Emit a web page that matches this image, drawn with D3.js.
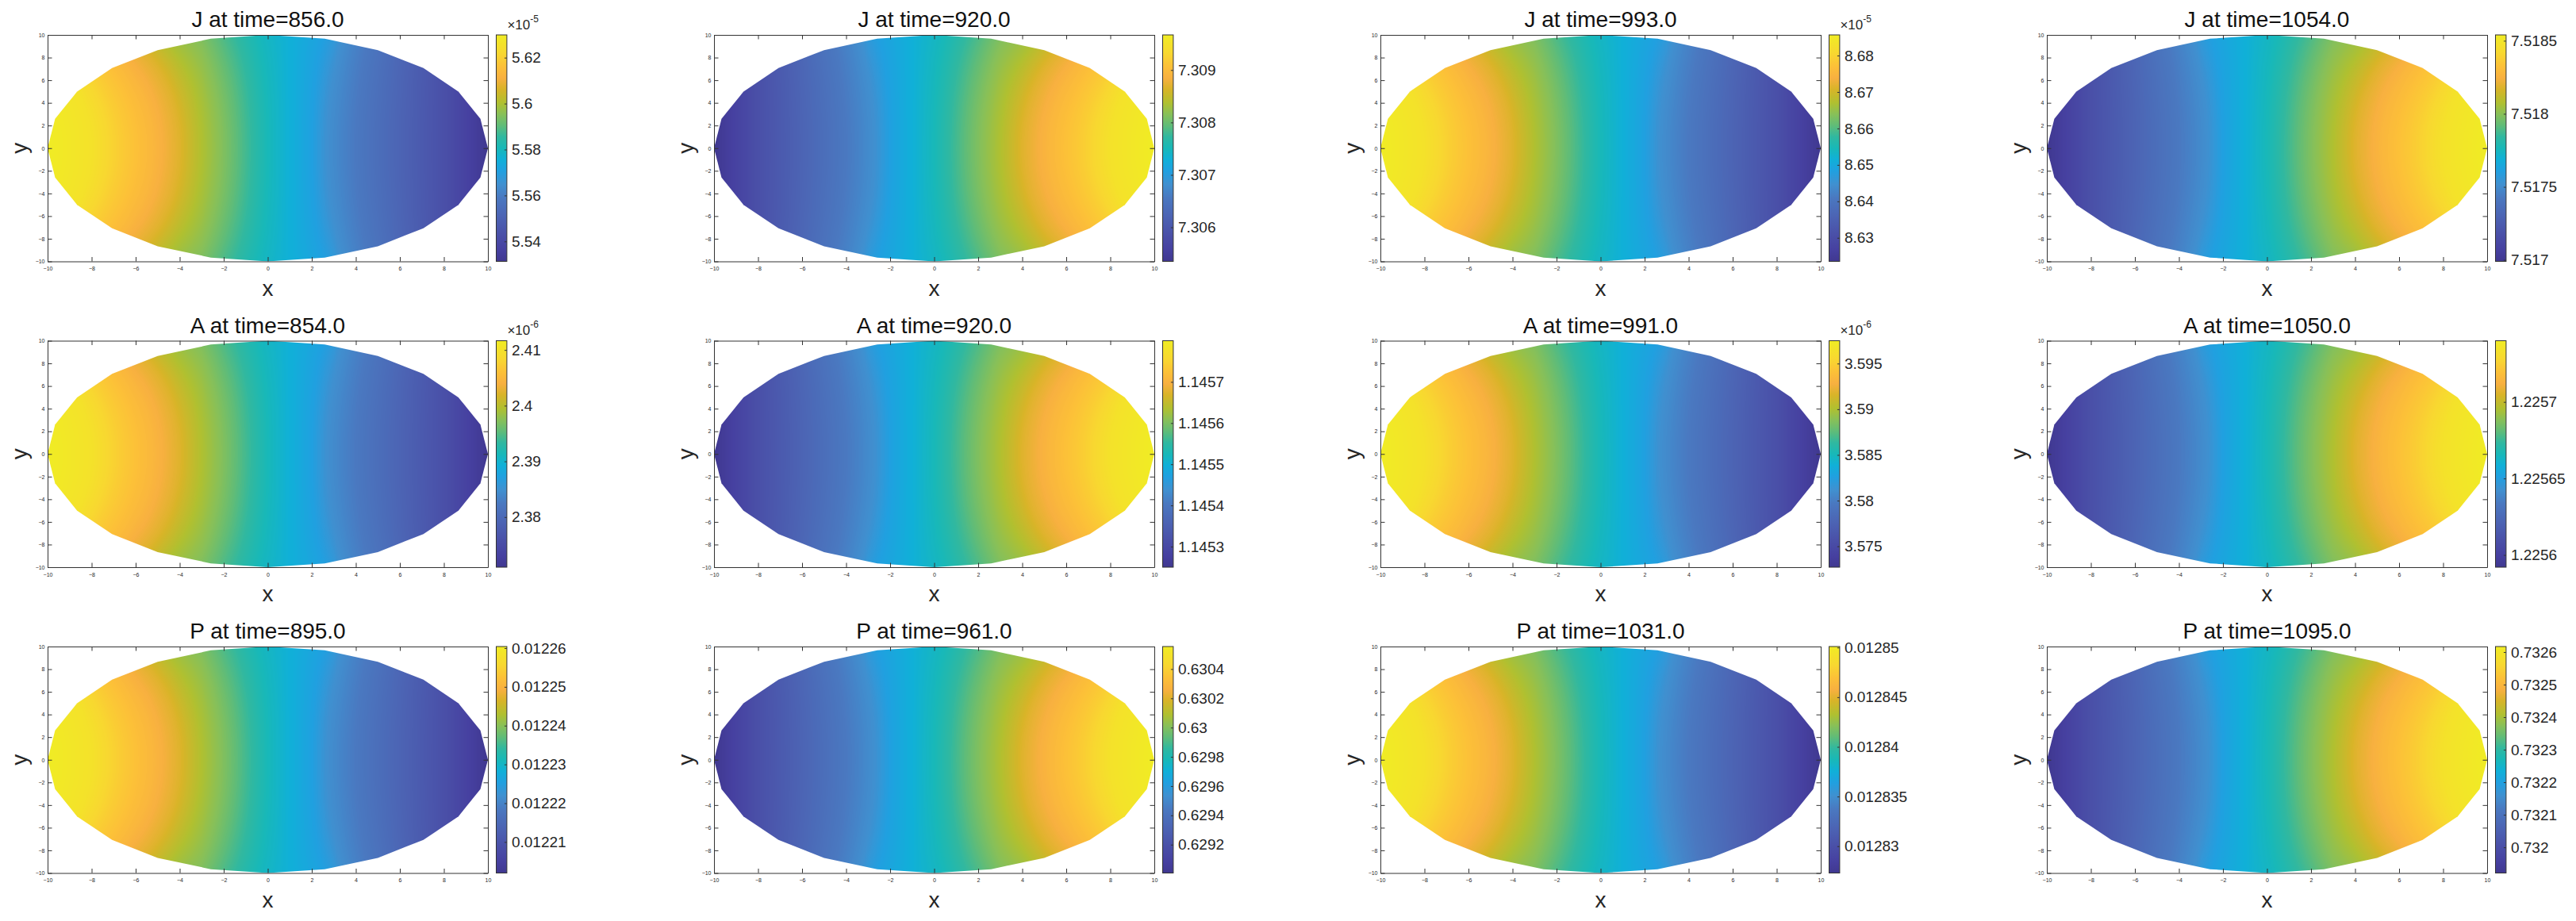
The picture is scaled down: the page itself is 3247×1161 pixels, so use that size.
<!DOCTYPE html>
<html>
<head>
<meta charset="utf-8">
<title>J, A, P at time</title>
<script src="https://d3js.org/d3.v7.min.js"></script>
<style>
  body { margin: 0; background: #fff; }
  svg { display: block; }
</style>
</head>
<body>
<div id="chart"></div>
<script>
!(function(){
    "use strict";

    var variables = ["J", "A", "P"];
    var times = [
        [856.0, 920.0, 993.0, 1054.0],
        [854.0, 920.0, 991.0, 1050.0],
        [895.0, 961.0, 1031.0, 1095.0]
    ];

    // colour limits, in colorbar units (i.e. already divided by 10^exponent)
    var climLow = [
        [5.5313, 7.30535, 8.62353, 7.51699],
        [2.3710, 1.14525, 3.57271, 1.225592],
        [0.012202, 0.629006, 0.0128273, 0.731921]
    ];
    var climHigh = [
        [5.6299, 7.30967, 8.68566, 7.51854],
        [2.41166, 1.14580, 3.59750, 1.225740],
        [0.0122604, 0.630554, 0.0128501, 0.732617]
    ];
    var exponents = [
        [-5, 0, -5, 0],
        [-6, 0, -6, 0],
        [0, 0, 0, 0]
    ];
    var cbTicks = [
        [[5.54, 5.56, 5.58, 5.6, 5.62],
         [7.306, 7.307, 7.308, 7.309],
         [8.63, 8.64, 8.65, 8.66, 8.67, 8.68],
         [7.517, 7.5175, 7.518, 7.5185]],
        [[2.38, 2.39, 2.4, 2.41],
         [1.1453, 1.1454, 1.1455, 1.1456, 1.1457],
         [3.575, 3.58, 3.585, 3.59, 3.595],
         [1.2256, 1.22565, 1.2257]],
        [[0.01221, 0.01222, 0.01223, 0.01224, 0.01225, 0.01226],
         [0.6292, 0.6294, 0.6296, 0.6298, 0.63, 0.6302, 0.6304],
         [0.01283, 0.012835, 0.01284, 0.012845, 0.01285],
         [0.732, 0.7321, 0.7322, 0.7323, 0.7324, 0.7325, 0.7326]]
    ];

    // high end on the left in columns 1 and 3, on the right in columns 2 and 4
    var mirror = [1, -1, 1, -1];
    // normalised level along y = 0 (0 = colour min, 1 = colour max)
    var profileX = [-10, -8, -6.7, -5.2, -4, -3, -2, -1, 0, 1, 2, 2.7, 4, 6, 8, 10];
    var profileT = [1.0, 0.96, 0.89, 0.83, 0.77, 0.70, 0.64, 0.57, 0.50, 0.45, 0.40, 0.34, 0.28, 0.20, 0.12, 0.0];
    // how far a level line has moved sideways at |y| = 7.5
    var shiftX = [-10, -8, -6, -4, -3, -2, 0, 1, 3, 5, 8, 10];
    var shiftS = [-1.3, -1.4, -1.3, -0.9, -0.6, -0.5, -0.2, 0, 0.4, 0.3, 0, 0];

    var axisTicks = [-10, -8, -6, -4, -2, 0, 2, 4, 6, 8, 10];
    var rimSides = 24, rimRadius = 10;	// the domain is a 24-gon

    // colormap as it appears in the colorbars (bottom -> top)
    var cmapT = [0, 0.05, 0.12, 0.20, 0.28, 0.34, 0.40, 0.45, 0.50, 0.55, 0.60, 0.65, 0.70, 0.76, 0.81, 0.86, 0.92, 1.0];
    var cmapC = ["#403890", "#4640a0", "#4a50a8", "#4c64b4", "#4a78c0", "#4090d0", "#20a0e0", "#10b0d8",
                 "#18b8b8", "#30b8a0", "#60bc78", "#88c058", "#b0c030", "#d8b428", "#f8b040", "#fcc038",
                 "#f8d830", "#f0ec24"];

    var FONT = "'Liberation Sans', Arial, Helvetica, sans-serif";
    var width = 3247, height = 1161;
    var colStep = 840, rowStep = 385.5;
    var left0 = 60, top0 = 44;
    var axW = 555, axH = 285.5;
    var cbOffset = 565.5, cbW = 13.4;

    var svg = d3.select("#chart")
        .append("svg")
        .attr("width", width)
        .attr("height", height)
        .attr("font-family", FONT)
    ;
    var defs = svg.append("defs");

    var grad = defs.append("linearGradient")
        .attr("id", "parula")
        .attr("x1", 0).attr("y1", 1)
        .attr("x2", 0).attr("y2", 0);
    grad.selectAll("stop")
        .data(cmapT)
        .join("stop")
        .attr("offset", function(d){ return d; })
        .attr("stop-color", function(d, i){ return cmapC[i]; });

    var x = d3.scaleLinear().domain([-10, 10]).range([0, axW]);
    var y = d3.scaleLinear().domain([-10, 10]).range([axH, 0]);

    var rim = d3.range(rimSides).map(function(k) {
        var a = 2 * Math.PI * k / rimSides;
        return [rimRadius * Math.cos(a), rimRadius * Math.sin(a)];
    });
    defs.append("clipPath")
        .attr("id", "rim")
        .append("path")
        .attr("d", d3.line().x(function(d){ return x(d[0]); }).y(function(d){ return y(d[1]); })(rim) + "Z");

    var cmap = d3.scaleLinear().domain(cmapT).range(cmapC).interpolate(d3.interpolateRgb);
    var lut = d3.range(256).map(function(i){ return d3.rgb(cmap(i / 255)); });
    var profile = d3.scaleLinear().domain(profileX).range(profileT).clamp(true);
    var shift = d3.scaleLinear().domain(shiftX).range(shiftS).clamp(true);

    // paint one field into an offscreen canvas, return it as a data url
    function fieldImage(lo, hi, m) {
        var cw = Math.ceil(axW), ch = Math.ceil(axH);
        var canvas = document.createElement("canvas");
        canvas.width = cw;
        canvas.height = ch;
        var ctx = canvas.getContext("2d");
        var img = ctx.createImageData(cw, ch);
        var level = d3.scaleLinear().domain([lo, hi]).rangeRound([0, 255]).clamp(true);
        var xs = d3.range(cw).map(function(i){ return m * x.invert((i + 0.5) * axW / cw); });
        var ys = d3.range(ch).map(function(j){ var v = y.invert((j + 0.5) * axH / ch) / 7.5; return v * v; });
        var p = 0;
        for (var j = 0; j < ch; j++) {
            for (var i = 0; i < cw; i++) {
                var x0 = xs[i] - shift(xs[i]) * ys[j];	// back to the y = 0 line
                var v = lo + profile(x0) * (hi - lo);
                var c = lut[level(v)];
                img.data[p++] = c.r;
                img.data[p++] = c.g;
                img.data[p++] = c.b;
                img.data[p++] = 255;
            }
        }
        ctx.putImageData(img, 0, 0);
        return canvas.toDataURL();
    }

    function styleAxis(sel, size) {
        sel.attr("font-family", FONT).attr("font-size", size);
        sel.selectAll(".domain, .tick line").attr("stroke", "#333").attr("stroke-width", 1);
        sel.selectAll(".tick text").attr("fill", "#262626");
    }

    variables.forEach(function(name, r) {
        times[r].forEach(function(t, c) {
            var lo = climLow[r][c], hi = climHigh[r][c];
            var g = svg.append("g")
                .attr("transform", "translate(" + (left0 + c * colStep) + "," + (top0 + r * rowStep) + ")");

            g.append("image")
                .attr("width", axW)
                .attr("height", axH)
                .attr("preserveAspectRatio", "none")
                .attr("clip-path", "url(#rim)")
                .attr("href", fieldImage(lo, hi, mirror[c]));

            // box with inward ticks on all four sides
            g.append("g")
                .attr("transform", "translate(0," + axH + ")")
                .call(d3.axisBottom(x).tickValues(axisTicks).tickSize(-5.5).tickSizeOuter(0).tickPadding(7))
                .call(styleAxis, 7);
            g.append("g")
                .call(d3.axisTop(x).tickValues(axisTicks).tickSize(-5.5).tickSizeOuter(0).tickFormat(""))
                .call(styleAxis, 7);
            g.append("g")
                .call(d3.axisLeft(y).tickValues(axisTicks).tickSize(-5.5).tickSizeOuter(0).tickPadding(3.5))
                .call(styleAxis, 7);
            g.append("g")
                .attr("transform", "translate(" + axW + ",0)")
                .call(d3.axisRight(y).tickValues(axisTicks).tickSize(-5.5).tickSizeOuter(0).tickFormat(""))
                .call(styleAxis, 7);

            g.append("text")
                .attr("x", axW / 2)
                .attr("y", -10)
                .attr("text-anchor", "middle")
                .attr("font-size", 28)
                .attr("fill", "#111")
                .text(name + " at time=" + t.toFixed(1));

            g.append("text")
                .attr("x", axW / 2)
                .attr("y", axH + 43)
                .attr("text-anchor", "middle")
                .attr("font-size", 28)
                .attr("fill", "#262626")
                .text("x");

            g.append("text")
                .attr("transform", "translate(-26," + (axH / 2) + ") rotate(-90)")
                .attr("text-anchor", "middle")
                .attr("font-size", 28)
                .attr("fill", "#262626")
                .text("y");

            // colorbar
            var cb = g.append("g").attr("transform", "translate(" + cbOffset + ",0)");
            cb.append("rect")
                .attr("width", cbW)
                .attr("height", axH)
                .attr("fill", "url(#parula)")
                .attr("stroke", "#333")
                .attr("stroke-width", 1);

            var cy = d3.scaleLinear().domain([lo, hi]).range([axH, 0]);
            var cbAxis = cb.append("g")
                .attr("transform", "translate(" + cbW + ",0)")
                .call(d3.axisRight(cy).tickValues(cbTicks[r][c]).tickSize(-3).tickSizeOuter(0).tickPadding(6).tickFormat(String))
                .call(styleAxis, 19);
            cbAxis.select(".domain").remove();

            if (exponents[r][c] !== 0) {
                var ex = cb.append("text")
                    .attr("x", cbW + 0.5)
                    .attr("y", -7.5)
                    .attr("font-size", 17)
                    .attr("fill", "#262626");
                ex.append("tspan").text("\u00d710");
                ex.append("tspan")
                    .attr("font-size", 12)
                    .attr("dy", -9)
                    .text(String(exponents[r][c]));
            }
        });
    });

}());
</script>
</body>
</html>
